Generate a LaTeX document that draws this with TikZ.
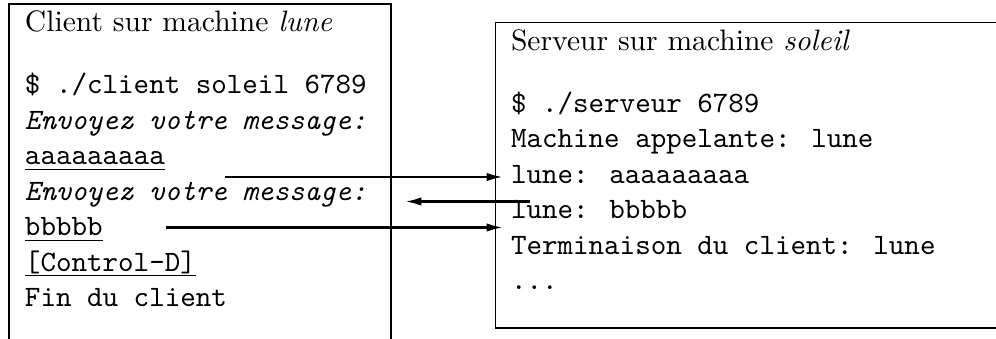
\documentclass[tikz,border=0pt]{standalone}
\usetikzlibrary{arrows.meta}
\begin{document}
\begin{tikzpicture}[x=0.338pt,y=-0.338pt,
  ttl/.style={anchor=base west, inner sep=0pt, outer sep=0pt, font=\rmfamily},
  txt/.style={anchor=base west, inner sep=0pt, outer sep=0pt, font=\ttfamily},
  prompt/.style={txt, font=\ttfamily\itshape},
  frame/.style={line width=0.4pt},
  ul/.style={line width=0.4pt},
  msg/.style={line width=0.8pt, -{Latex[length=5.5pt,width=2.8pt]}}]
\useasboundingbox (0,0) rectangle (996,339);
\clip (0,0) rectangle (996,339);

% the two terminal windows
\draw[frame] (9,4) rectangle (391,360);
\draw[frame] (495.7,22.3) rectangle (1010,328);

% client side
\node[ttl]    (ct) at (25,32)    {Client sur machine \textit{lune}};
\node[txt]    (c1) at (25,94)    {\$ ./client soleil 6789};
\node[prompt] (c2) at (25,129.5) {Envoyez votre message:};
\node[txt]    (c3) at (25,165)   {aaaaaaaaa};
\node[prompt] (c4) at (25,200.5) {Envoyez votre message:};
\node[txt]    (c5) at (25,236)   {bbbbb};
\node[txt]    (c6) at (25,271.5) {[Control-D]};
\node[txt]    (c7) at (25,307)   {Fin du client};

% what the user typed
\foreach \n in {c3,c5,c6}
  \draw[ul] ([yshift=-1.45pt]\n.base west) -- ([yshift=-1.45pt]\n.base east);

% server side
\node[ttl] (st) at (511,50.3)  {Serveur sur machine \textit{soleil}};
\node[txt] (s1) at (511,112.3) {\$ ./serveur 6789};
\node[txt] (s2) at (511,147.8) {Machine appelante: lune};
\node[txt] (s3) at (511,183.3) {lune: aaaaaaaaa};
\node[txt] (s4) at (511,218.8) {lune: bbbbb};
\node[txt] (s5) at (511,254.3) {Terminaison du client: lune};
\node[txt] (s6) at (511,289.8) {...};

% messages exchanged
\coordinate (m1a) at (225,177);   \coordinate (m1b) at (503,177);
\coordinate (m2a) at (530,201.5); \coordinate (m2b) at (405,201.5);
\coordinate (m3a) at (166,227.5); \coordinate (m3b) at (503,227.5);
\draw[msg] (m1a) -- (m1b);
\draw[msg] (m2a) -- (m2b);
\draw[msg] (m3a) -- (m3b);
\end{tikzpicture}
\end{document}
